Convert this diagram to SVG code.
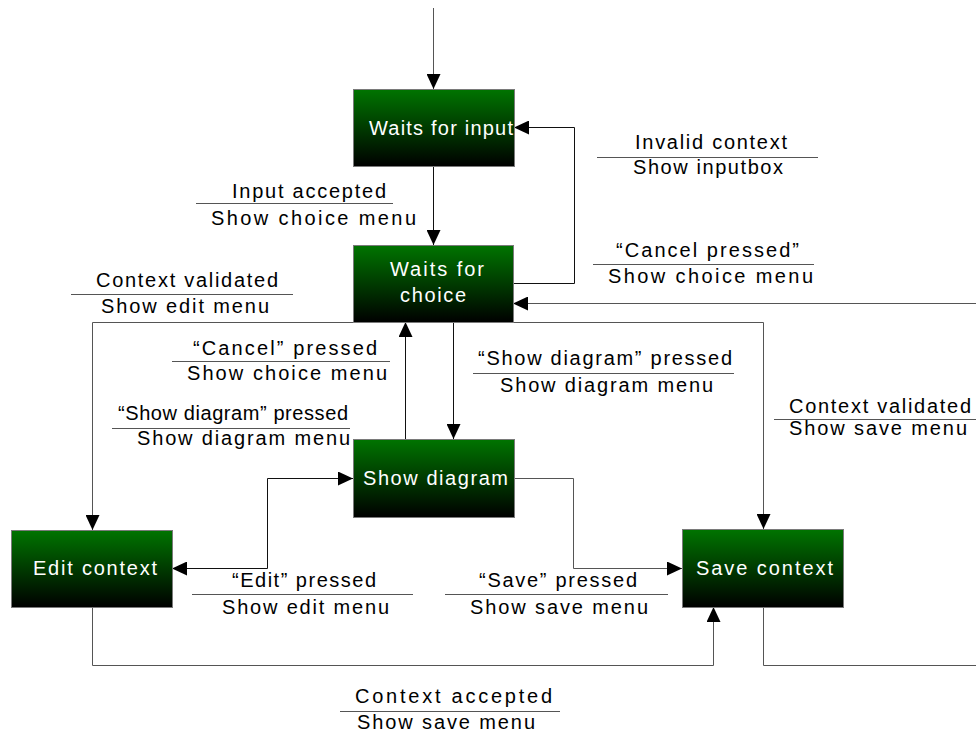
<svg xmlns="http://www.w3.org/2000/svg" width="976" height="736" viewBox="0 0 976 736">
  <defs>
    <linearGradient id="stateFill" x1="0" y1="0" x2="0" y2="1">
      <stop offset="0" stop-color="#007400"/>
      <stop offset="0.5" stop-color="#003a00"/>
      <stop offset="1" stop-color="#000000"/>
    </linearGradient>
    <marker id="arrow" viewBox="0 0 15 14" markerWidth="15" markerHeight="14" refX="15" refY="7" markerUnits="userSpaceOnUse" orient="auto-start-reverse">
      <path d="M0,0 L15,7 L0,14 z" fill="#000"/>
    </marker>
    <style>
      .state rect { fill: url(#stateFill); stroke: #7a7a7a; stroke-width: 1; }
      .state text { font-family: "Liberation Sans", Arial, sans-serif; font-size: 20px; fill: #ffffff; lengthAdjust: spacing; }
      .label text { font-family: "Liberation Sans", Arial, sans-serif; font-size: 20px; fill: #000000; }
      .label line { stroke: #555555; stroke-width: 1; }
      .conn { fill: none; stroke: #555555; stroke-width: 1; }
      .conn.dark { stroke: #111111; }
      .arrow { marker-end: url(#arrow); }
    </style>
  </defs>

  <!-- transitions -->
  <g id="connectors">
    <path class="conn arrow" d="M433.5,8 V89"/>
    <path class="conn dark arrow" d="M433.5,166 V245"/>
    <path class="conn dark arrow" d="M513,283.5 H574.5 V127.5 H514"/>
    <path class="conn arrow" d="M976,303.5 H513"/>
    <path class="conn arrow" d="M353,322.5 H92.5 V530"/>
    <path class="conn arrow" d="M513,322.5 H763.5 V529"/>
    <path class="conn dark arrow" d="M453.5,322 V439"/>
    <path class="conn dark arrow" d="M405.5,439 V322"/>
    <path class="conn dark arrow" d="M172,568.5 H267.5 V478.5 H353" marker-start="url(#arrow)"/>
    <path class="conn arrow" d="M514,478.5 H573.5 V568.5 H682"/>
    <path class="conn arrow" d="M92.5,607 V665.5 H713.5 V607"/>
    <path class="conn" d="M763.5,607 V665.5 H976"/>
  </g>

  <!-- states -->
  <g id="state-waits-input" class="state">
    <rect x="353.5" y="89.5" width="161" height="77"/>
    <text x="369" y="135" textLength="144" lengthAdjust="spacing">Waits for input</text>
  </g>
  <g id="state-waits-choice" class="state">
    <rect x="353.5" y="245.5" width="160" height="77"/>
    <text x="390" y="276" textLength="94" lengthAdjust="spacing">Waits for</text>
    <text x="400" y="302" textLength="66" lengthAdjust="spacing">choice</text>
  </g>
  <g id="state-show-diagram" class="state">
    <rect x="353.5" y="439.5" width="161" height="78"/>
    <text x="363" y="485" textLength="145" lengthAdjust="spacing">Show diagram</text>
  </g>
  <g id="state-edit-context" class="state">
    <rect x="11.5" y="530.5" width="161" height="77"/>
    <text x="33" y="575" textLength="124" lengthAdjust="spacing">Edit context</text>
  </g>
  <g id="state-save-context" class="state">
    <rect x="682.5" y="529.5" width="161" height="78"/>
    <text x="696" y="575" textLength="137" lengthAdjust="spacing">Save context</text>
  </g>

  <!-- event / action labels -->
  <g id="label-input-accepted" class="label">
    <text x="232" y="198" textLength="154" lengthAdjust="spacing">Input accepted</text>
    <line x1="196" y1="203.5" x2="393" y2="203.5"/>
    <text x="211" y="225" textLength="205" lengthAdjust="spacing">Show choice menu</text>
  </g>
  <g id="label-invalid-context" class="label">
    <text x="635" y="149" textLength="152" lengthAdjust="spacing">Invalid context</text>
    <line x1="597" y1="157.5" x2="818" y2="157.5"/>
    <text x="633" y="174" textLength="150" lengthAdjust="spacing">Show inputbox</text>
  </g>
  <g id="label-cancel-pressed-right" class="label">
    <text x="616" y="257" textLength="183" lengthAdjust="spacing">“Cancel pressed”</text>
    <line x1="593" y1="264.5" x2="814" y2="264.5"/>
    <text x="608" y="283" textLength="205" lengthAdjust="spacing">Show choice menu</text>
  </g>
  <g id="label-context-validated-edit" class="label">
    <text x="96" y="287" textLength="182" lengthAdjust="spacing">Context validated</text>
    <line x1="71" y1="294.5" x2="293" y2="294.5"/>
    <text x="101" y="313" textLength="168" lengthAdjust="spacing">Show edit menu</text>
  </g>
  <g id="label-cancel-pressed-left" class="label">
    <text x="193" y="355" textLength="184" lengthAdjust="spacing">“Cancel” pressed</text>
    <line x1="172" y1="361.5" x2="390" y2="361.5"/>
    <text x="187" y="380" textLength="200" lengthAdjust="spacing">Show choice menu</text>
  </g>
  <g id="label-show-diagram-left" class="label">
    <text x="118" y="420" textLength="230" lengthAdjust="spacing">“Show diagram” pressed</text>
    <line x1="112" y1="428.5" x2="350" y2="428.5"/>
    <text x="137" y="445" textLength="213" lengthAdjust="spacing">Show diagram menu</text>
  </g>
  <g id="label-show-diagram-right" class="label">
    <text x="478" y="365" textLength="254" lengthAdjust="spacing">“Show diagram” pressed</text>
    <line x1="473" y1="373.5" x2="734" y2="373.5"/>
    <text x="500" y="392" textLength="213" lengthAdjust="spacing">Show diagram menu</text>
  </g>
  <g id="label-context-validated-save" class="label">
    <text x="789" y="413" textLength="182" lengthAdjust="spacing">Context validated</text>
    <line x1="774" y1="419.5" x2="976" y2="419.5"/>
    <text x="789" y="435" textLength="178" lengthAdjust="spacing">Show save menu</text>
  </g>
  <g id="label-edit-pressed" class="label">
    <text x="232" y="587" textLength="144" lengthAdjust="spacing">“Edit” pressed</text>
    <line x1="192" y1="594.5" x2="413" y2="594.5"/>
    <text x="222" y="614" textLength="167" lengthAdjust="spacing">Show edit menu</text>
  </g>
  <g id="label-save-pressed" class="label">
    <text x="479" y="587" textLength="158" lengthAdjust="spacing">“Save” pressed</text>
    <line x1="445" y1="594.5" x2="668" y2="594.5"/>
    <text x="470" y="614" textLength="178" lengthAdjust="spacing">Show save menu</text>
  </g>
  <g id="label-context-accepted" class="label">
    <text x="355" y="703" textLength="197" lengthAdjust="spacing">Context accepted</text>
    <line x1="340" y1="711.5" x2="560" y2="711.5"/>
    <text x="357" y="729" textLength="178" lengthAdjust="spacing">Show save menu</text>
  </g>
</svg>
